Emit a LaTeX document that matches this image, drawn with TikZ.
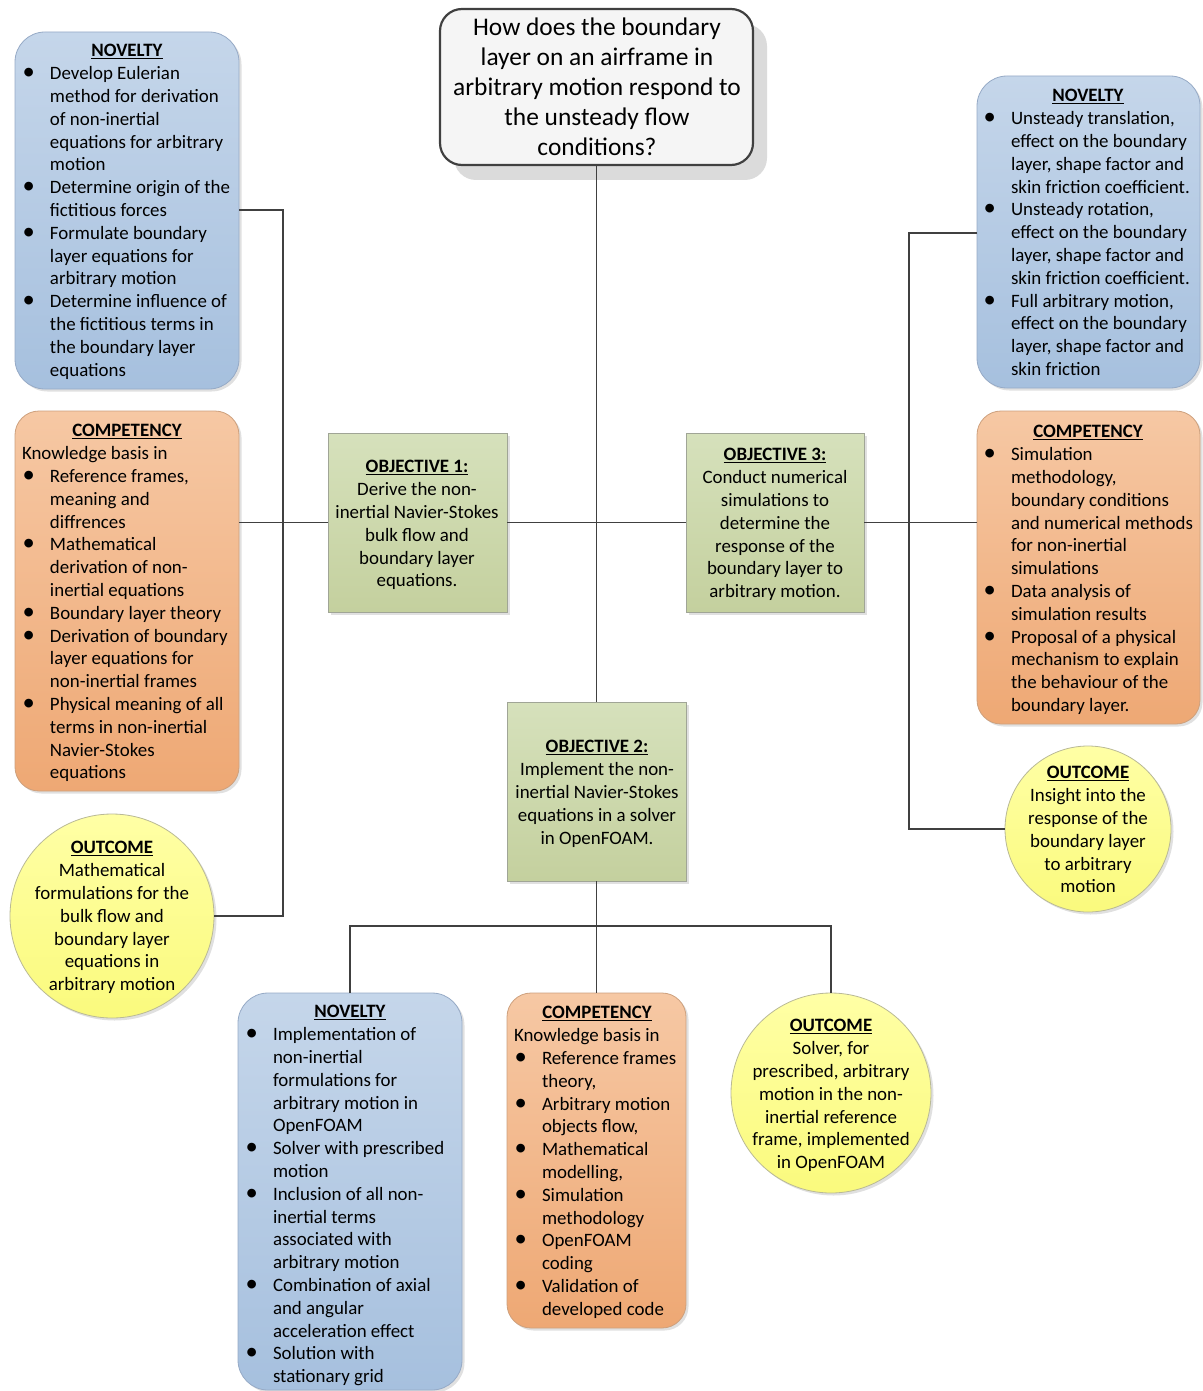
\documentclass[tikz,border=0pt]{standalone}
\usepackage{fontspec}
\setmainfont{Carlito}
\usepackage{array}
\usepackage{graphicx}
\usetikzlibrary{shadows,calc}
\definecolor{blueT}{RGB}{197,214,234}
\definecolor{blueB}{RGB}{166,192,222}
\definecolor{blueD}{RGB}{150,170,198}
\definecolor{orT}{RGB}{246,200,164}
\definecolor{orB}{RGB}{238,168,116}
\definecolor{orD}{RGB}{205,160,125}
\definecolor{grT}{RGB}{214,225,188}
\definecolor{grB}{RGB}{196,208,158}
\definecolor{grD}{RGB}{160,165,150}
\definecolor{yelT}{RGB}{255,255,165}
\definecolor{yelB}{RGB}{250,250,125}
\definecolor{yelD}{RGB}{185,185,150}
\definecolor{lnc}{RGB}{64,64,64}
\newcommand\hd[2]{\multicolumn{2}{@{}l@{}}{\hspace*{#1}\makebox[0pt]{\underline{\textbf{#2}}}}}
\newcommand\kb[1]{\multicolumn{2}{@{}l@{}}{#1}}
\newcommand\bu{\makebox[28pt][l]{\hspace{0.5pt}\scalebox{1.3}{\textbullet}}}
\newcommand\ul[1]{\underline{\textbf{#1}}}
\begin{document}
\begin{tikzpicture}[x=1pt,y=-1pt,
  every node/.style={inner sep=0pt,outer sep=0pt},
  softshadow/.style={drop shadow={shadow xshift=2.5pt,shadow yshift=-2.5pt,fill=black,opacity=0.12}},
  bluebox/.style={draw=blueD,line width=0.8pt,rounded corners=30pt,top color=blueT,bottom color=blueB,softshadow},
  orbox/.style={draw=orD,line width=0.8pt,rounded corners=24pt,top color=orT,bottom color=orB,softshadow},
  objbox/.style={draw=grD,line width=0.8pt,top color=grT,bottom color=grB,softshadow},
  circ/.style={circle,draw=yelD,line width=0.8pt,top color=yelT,bottom color=yelB,softshadow},
  titlebox/.style={draw=lnc,line width=2.2pt,rounded corners=22pt,fill=black!4,
     drop shadow={shadow xshift=14pt,shadow yshift=-15pt,fill=black,opacity=0.14}},
  txt/.style={font=\fontsize{18.9}{22.8}\selectfont},
  ttl/.style={font=\fontsize{25.4}{30}\selectfont},
  conn/.style={draw=lnc,line width=1.5pt}]
\useasboundingbox (0,0) rectangle (1202,1391);
% shapes
\node[titlebox,minimum width=313pt,minimum height=156pt,anchor=north west] (T) at (440,9) {};
\node[bluebox,minimum width=224pt,minimum height=357pt,anchor=north west] (LN) at (15,32) {};
\node[orbox,minimum width=224pt,minimum height=380pt,anchor=north west] (LC) at (15,411) {};
\node[circ,minimum size=204pt] (LO) at (112,916) {};
\node[objbox,minimum width=179pt,minimum height=179pt,anchor=north west] (O1) at (328,433) {};
\node[objbox,minimum width=178pt,minimum height=179pt,anchor=north west] (O3) at (686,433) {};
\node[objbox,minimum width=179pt,minimum height=179pt,anchor=north west] (O2) at (507,702) {};
\node[bluebox,minimum width=223pt,minimum height=312pt,anchor=north west] (RN) at (977,76) {};
\node[orbox,minimum width=223pt,minimum height=313pt,anchor=north west] (RC) at (977,411) {};
\node[circ,minimum size=166pt] (RO) at (1088,829) {};
\node[bluebox,minimum width=224pt,minimum height=397pt,anchor=north west] (BN) at (238,993) {};
\node[orbox,minimum width=179pt,minimum height=335pt,anchor=north west] (BC) at (507,993) {};
\node[circ,minimum size=200pt] (BO) at (831,1093) {};
% connectors
\coordinate (lbt) at (283,210);
\coordinate (rbt) at (909,233);
\coordinate (bj) at (597,926);
\draw[conn] (T.south) -- (O2.north);
\draw[conn] (O1.west) -- (O1.west -| LC.east);
\draw[conn] (O1.east) -- (O3.west);
\draw[conn] (O3.east) -- (O3.east -| RC.west);
\draw[conn] (lbt -| LN.east) -- (lbt) |- (LO.east);
\draw[conn] (rbt -| RN.west) -- (rbt) |- (RO.west);
\draw[conn] (O2.south) -- (BC.north);
\draw[conn] (BN.north) |- (bj) -| (BO.north);
% texts
\node[ttl,anchor=north] (Tt) at (597,15) {\begin{tabular}{@{}c@{}}
How does the boundary\\ layer on an airframe in\\ arbitrary motion respond to\\ the unsteady flow\\ conditions?\end{tabular}};
\node[txt,anchor=north west] (LNt) at (22,41) {\begin{tabular}{@{}l@{}l@{}}
\hd{105pt}{NOVELTY}\\
\bu & Develop Eulerian\\
& method for derivation\\
& of non-inertial\\
& equations for arbitrary\\
& motion\\
\bu & Determine origin of the\\
& fictitious forces\\
\bu & Formulate boundary\\
& layer equations for\\
& arbitrary motion\\
\bu & Determine influence of\\
& the fictitious terms in\\
& the boundary layer\\
& equations
\end{tabular}};
\node[txt,anchor=north west] (LCt) at (22,421) {\begin{tabular}{@{}l@{}l@{}}
\hd{105pt}{COMPETENCY}\\
\kb{Knowledge basis in}\\
\bu & Reference frames,\\
& meaning and\\
& diffrences\\
\bu & Mathematical\\
& derivation of non-\\
& inertial equations\\
\bu & Boundary layer theory\\
\bu & Derivation of boundary\\
& layer equations for\\
& non-inertial frames\\
\bu & Physical meaning of all\\
& terms in non-inertial\\
& Navier-Stokes\\
& equations
\end{tabular}};
\node[txt,anchor=north] (LOt) at (112,838) {\begin{tabular}{@{}c@{}}
\ul{OUTCOME}\\ Mathematical\\ formulations for the\\ bulk flow and\\ boundary layer\\ equations in\\ arbitrary motion\end{tabular}};
\node[txt,anchor=north] (O1t) at (417,457) {\begin{tabular}{@{}c@{}}
\ul{OBJECTIVE 1:}\\ Derive the non-\\ inertial Navier-Stokes\\ bulk flow and\\ boundary layer\\ equations.\end{tabular}};
\node[txt,anchor=north] (O3t) at (775,445) {\begin{tabular}{@{}c@{}}
\ul{OBJECTIVE 3:}\\ Conduct numerical\\ simulations to\\ determine the\\ response of the\\ boundary layer to\\ arbitrary motion.\end{tabular}};
\node[txt,anchor=north] (O2t) at (597,737) {\begin{tabular}{@{}c@{}}
\ul{OBJECTIVE 2:}\\ Implement the non-\\ inertial Navier-Stokes\\ equations in a solver\\ in OpenFOAM.\end{tabular}};
\node[txt,anchor=north west] (RNt) at (983,86) {\begin{tabular}{@{}l@{}l@{}}
\hd{105pt}{NOVELTY}\\
\bu & Unsteady translation,\\
& effect on the boundary\\
& layer, shape factor and\\
& skin friction coefficient.\\
\bu & Unsteady rotation,\\
& effect on the boundary\\
& layer, shape factor and\\
& skin friction coefficient.\\
\bu & Full arbitrary motion,\\
& effect on the boundary\\
& layer, shape factor and\\
& skin friction
\end{tabular}};
\node[txt,anchor=north west] (RCt) at (983,422) {\begin{tabular}{@{}l@{}l@{}}
\hd{105pt}{COMPETENCY}\\
\bu & Simulation\\
& methodology,\\
& boundary conditions\\
& and numerical methods\\
& for non-inertial\\
& simulations\\
\bu & Data analysis of\\
& simulation results\\
\bu & Proposal of a physical\\
& mechanism to explain\\
& the behaviour of the\\
& boundary layer.
\end{tabular}};
\node[txt,anchor=north] (ROt) at (1088,763) {\begin{tabular}{@{}c@{}}
\ul{OUTCOME}\\ Insight into the\\ response of the\\ boundary layer\\ to arbitrary\\ motion\end{tabular}};
\node[txt,anchor=north west] (BNt) at (245,1002) {\begin{tabular}{@{}l@{}l@{}}
\hd{105pt}{NOVELTY}\\
\bu & Implementation of\\
& non-inertial\\
& formulations for\\
& arbitrary motion in\\
& OpenFOAM\\
\bu & Solver with prescribed\\
& motion\\
\bu & Inclusion of all non-\\
& inertial terms\\
& associated with\\
& arbitrary motion\\
\bu & Combination of axial\\
& and angular\\
& acceleration effect\\
\bu & Solution with\\
& stationary grid
\end{tabular}};
\node[txt,anchor=north west] (BCt) at (514,1003) {\begin{tabular}{@{}l@{}l@{}}
\hd{83pt}{COMPETENCY}\\
\kb{Knowledge basis in}\\
\bu & Reference frames\\
& theory,\\
\bu & Arbitrary motion\\
& objects flow,\\
\bu & Mathematical\\
& modelling,\\
\bu & Simulation\\
& methodology\\
\bu & OpenFOAM\\
& coding\\
\bu & Validation of\\
& developed code
\end{tabular}};
\node[txt,anchor=north] (BOt) at (831,1016) {\begin{tabular}{@{}c@{}}
\ul{OUTCOME}\\ Solver, for\\ prescribed, arbitrary\\ motion in the non-\\ inertial reference\\ frame, implemented\\ in OpenFOAM\end{tabular}};
\end{tikzpicture}
\end{document}
